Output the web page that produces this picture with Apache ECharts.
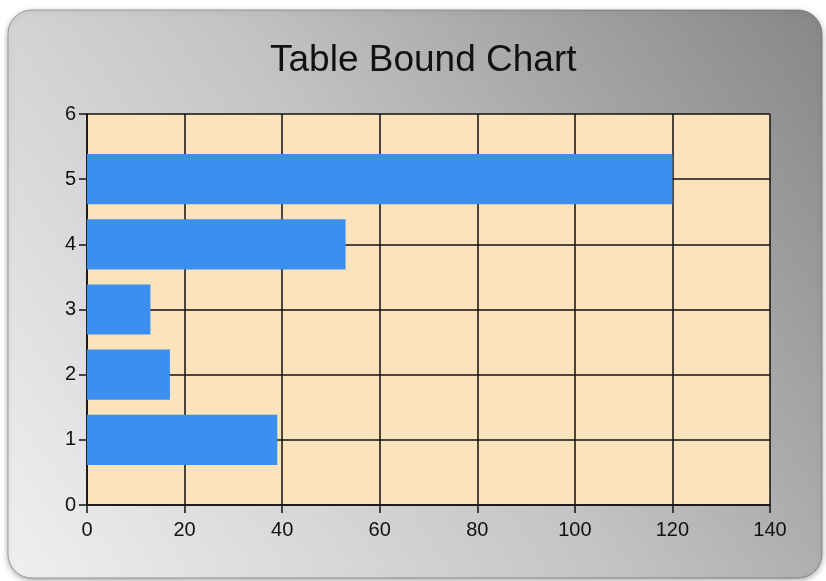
<!DOCTYPE html>
<html>
<head>
<meta charset="utf-8">
<script src="https://cdn.jsdelivr.net/npm/echarts@6/dist/echarts.min.js"></script>
<style>
  html, body { margin: 0; padding: 0; background: #fff; }
  #chart { width: 826px; height: 581px; }
</style>
</head>
<body>
<div id="chart"></div>
<script>
// 数据
const positions = [1, 2, 3, 4, 5]
const values = [39, 17, 13, 53, 120]

const chart = echarts.init(document.getElementById('chart'))

const axisFont = { color: '#111', fontSize: 20, fontFamily: 'Liberation Sans, Arial, sans-serif' }
const halfBar = 0.385 // 条形半宽（y 轴单位）

chart.setOption({
  animation: false,
  graphic: [
    {
      type: 'rect',
      z: -10,
      shape: { x: 8, y: 10, width: 814, height: 568, r: 24 },
      style: {
        fill: new echarts.graphic.LinearGradient(1, 0, 0, 1, [
          { offset: 0, color: '#878787' },
          { offset: 0.5, color: '#c4c4c4' },
          { offset: 1, color: '#f0f0f0' },
        ]),
        stroke: 'rgba(90,90,90,0.5)',
        lineWidth: 1,
        shadowBlur: 6,
        shadowColor: 'rgba(0,0,0,0.35)',
        shadowOffsetY: 2,
      },
    },
  ],
  title: {
    text: 'Table Bound Chart',
    left: 265,
    top: 37,
    textStyle: {
      fontSize: 37,
      fontWeight: 'normal',
      color: '#111',
      fontFamily: 'Liberation Sans, Arial, sans-serif',
    },
  },
  grid: {
    left: 87,
    right: 56,
    top: 114,
    bottom: 76,
    show: true,
    backgroundColor: '#fbe3bb',
    borderWidth: 0,
  },
  xAxis: {
    type: 'value',
    min: 0,
    max: 140,
    interval: 20,
    axisLine: { show: true, lineStyle: { color: '#111', width: 1.5 } },
    axisTick: { show: true, length: 8, lineStyle: { color: '#111', width: 1.5 } },
    axisLabel: { ...axisFont, margin: 15 },
    splitLine: { show: true, lineStyle: { color: '#111', width: 1.5 } },
  },
  yAxis: {
    type: 'value',
    min: 0,
    max: 6,
    interval: 1,
    axisLine: { show: true, lineStyle: { color: '#111', width: 1.5 } },
    axisTick: { show: true, length: 8, lineStyle: { color: '#111', width: 1.5 } },
    axisLabel: { ...axisFont, margin: 11 },
    splitLine: { show: true, lineStyle: { color: '#111', width: 1.5 } },
  },
  series: [
    {
      // 数值型 y 轴上的横向条形，用 custom 系列画
      type: 'custom',
      z: 3,
      data: positions.map((p, i) => [values[i], p]),
      encode: { x: 0, y: 1 },
      renderItem: (params, api) => {
        const v = api.value(0)
        const p = api.value(1)
        const a = api.coord([0, p + halfBar])
        const b = api.coord([v, p - halfBar])
        return {
          type: 'rect',
          shape: { x: a[0], y: a[1], width: b[0] - a[0], height: b[1] - a[1] },
          style: { fill: '#3b8fee' },
        }
      },
    },
  ],
})
</script>
</body>
</html>
